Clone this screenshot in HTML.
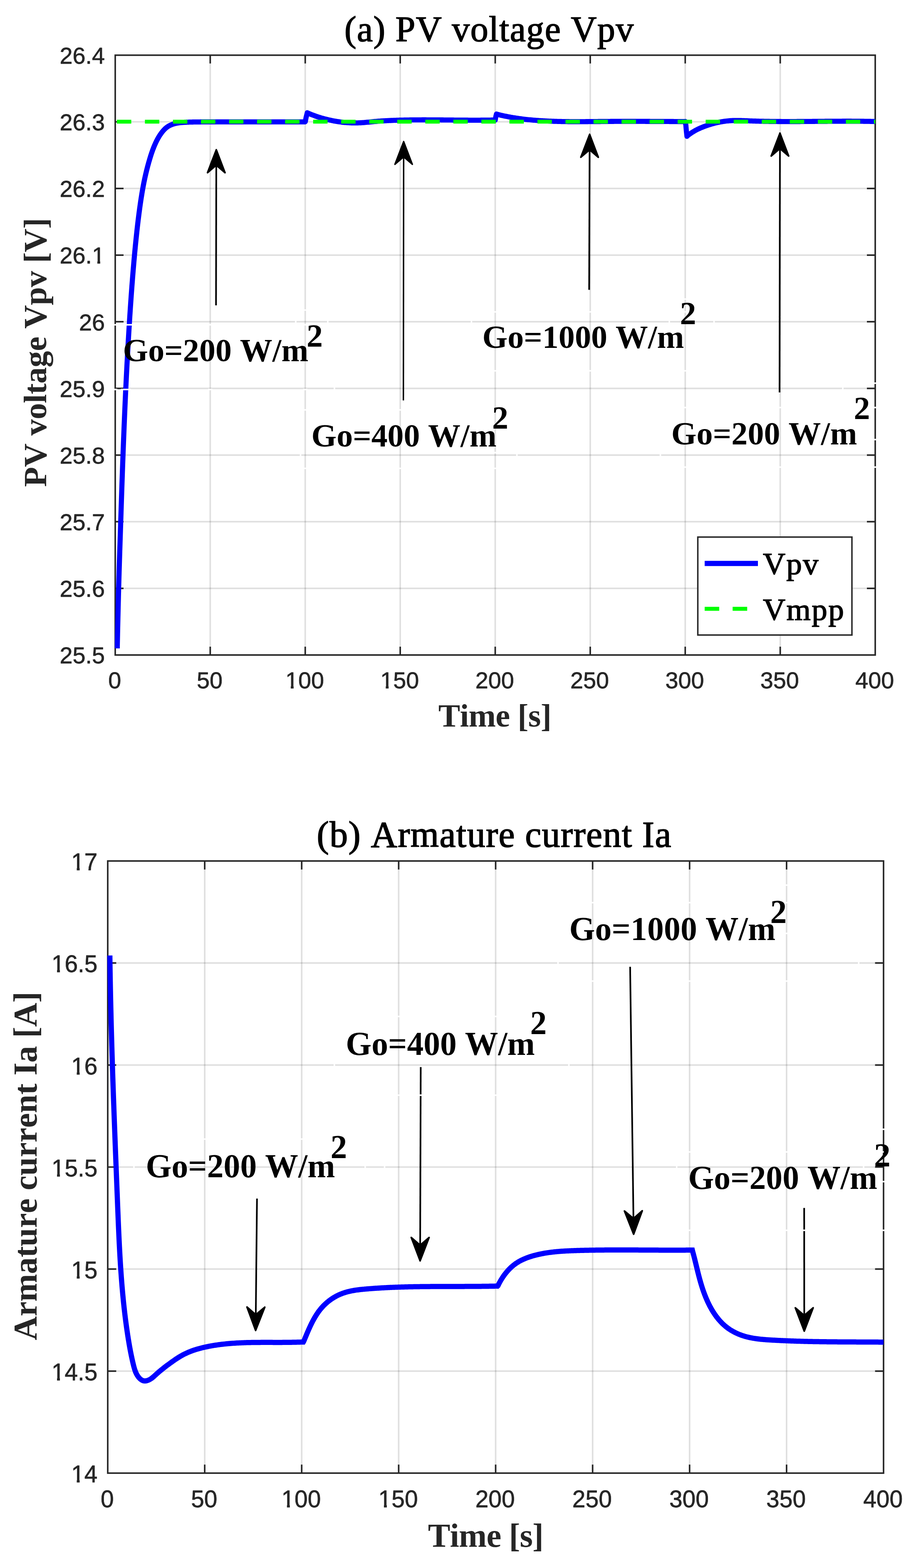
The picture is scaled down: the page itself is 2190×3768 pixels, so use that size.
<!DOCTYPE html>
<html lang="en"><head><meta charset="utf-8"><title>PV voltage and armature current</title>
<style>
html,body{margin:0;padding:0;background:#fff;}
body{width:2190px;height:3768px;overflow:hidden;}
svg{display:block;}
text{white-space:pre;font-kerning:none;}
</style></head><body>
<svg width="2190" height="3768" viewBox="0 0 2190 3768" role="img" aria-label="PV voltage and armature current plots">
<rect width="2190" height="3768" fill="#fff"/>
<g stroke="#262626" stroke-opacity="0.15" stroke-width="3.7" fill="none"><line x1="505.38" y1="132.6" x2="505.38" y2="1574"/><line x1="733.75" y1="132.6" x2="733.75" y2="1574"/><line x1="962.12" y1="132.6" x2="962.12" y2="1574"/><line x1="1190.5" y1="132.6" x2="1190.5" y2="1574"/><line x1="1418.88" y1="132.6" x2="1418.88" y2="1574"/><line x1="1647.25" y1="132.6" x2="1647.25" y2="1574"/><line x1="1875.62" y1="132.6" x2="1875.62" y2="1574"/><line x1="277" y1="1413.84" x2="2104" y2="1413.84"/><line x1="277" y1="1253.69" x2="2104" y2="1253.69"/><line x1="277" y1="1093.53" x2="2104" y2="1093.53"/><line x1="277" y1="933.38" x2="2104" y2="933.38"/><line x1="277" y1="773.22" x2="2104" y2="773.22"/><line x1="277" y1="613.07" x2="2104" y2="613.07"/><line x1="277" y1="452.91" x2="2104" y2="452.91"/><line x1="277" y1="292.76" x2="2104" y2="292.76"/></g>
<path d="M505.38 1574 v-20 M505.38 132.6 v20 M733.75 1574 v-20 M733.75 132.6 v20 M962.12 1574 v-20 M962.12 132.6 v20 M1190.5 1574 v-20 M1190.5 132.6 v20 M1418.88 1574 v-20 M1418.88 132.6 v20 M1647.25 1574 v-20 M1647.25 132.6 v20 M1875.62 1574 v-20 M1875.62 132.6 v20 M277 1413.84 h20 M2104 1413.84 h-20 M277 1253.69 h20 M2104 1253.69 h-20 M277 1093.53 h20 M2104 1093.53 h-20 M277 933.38 h20 M2104 933.38 h-20 M277 773.22 h20 M2104 773.22 h-20 M277 613.07 h20 M2104 613.07 h-20 M277 452.91 h20 M2104 452.91 h-20 M277 292.76 h20 M2104 292.76 h-20" stroke="#262626" stroke-width="3.7" fill="none"/>
<rect x="277" y="132.6" width="1827" height="1441.4" stroke="#262626" stroke-width="3.7" fill="none"/>
<clipPath id="ca"><rect x="275.4" y="132.6" width="1828.6" height="1441.4"/></clipPath>
<g clip-path="url(#ca)">
<path d="M281.8 1558.08 L282.3 1534.83 L282.8 1512.28 L283.31 1490.45 L283.81 1469.34 L284.31 1448.95 L284.81 1429.3 L285.32 1410.39 L285.82 1392.31 L286.32 1374.98 L286.83 1358.28 L287.33 1342.09 L287.83 1326.27 L288.34 1310.72 L288.84 1295.34 L289.34 1280.02 L289.85 1264.67 L290.35 1249.21 L290.85 1233.75 L291.36 1218.38 L291.86 1203.11 L292.36 1187.98 L292.86 1173.03 L293.37 1158.28 L293.87 1143.74 L294.37 1129.46 L294.88 1115.44 L295.38 1101.71 L295.88 1088.27 L296.39 1075.07 L296.89 1062.07 L297.39 1049.28 L297.9 1036.7 L298.4 1024.33 L298.9 1012.17 L299.4 1000.22 L299.91 988.48 L300.41 976.95 L300.91 965.62 L301.42 954.51 L301.92 943.59 L302.42 932.88 L302.93 922.38 L303.43 912.09 L303.93 901.98 L304.44 892.07 L304.94 882.33 L305.44 872.77 L305.95 863.37 L306.45 854.13 L306.95 845.04 L307.45 836.09 L307.96 827.29 L308.46 818.61 L308.96 810.06 L309.47 801.64 L309.97 793.33 L310.47 785.14 L310.98 777.05 L311.48 769.07 L311.98 761.21 L312.49 753.48 L312.99 745.87 L313.49 738.37 L314 730.99 L314.5 723.73 L315 716.58 L315.5 709.54 L316.01 702.61 L316.51 695.78 L317.01 689.06 L317.52 682.45 L318.02 675.93 L318.52 669.52 L319.03 663.21 L319.53 656.99 L320.03 650.87 L320.54 644.84 L321.04 638.9 L321.54 633.06 L322.04 627.3 L322.55 621.63 L323.05 616.05 L323.55 610.56 L324.06 605.15 L324.56 599.82 L325.06 594.57 L325.57 589.41 L326.07 584.32 L326.57 579.32 L327.08 574.39 L327.58 569.54 L328.08 564.77 L328.59 560.07 L329.09 555.46 L329.59 550.91 L330.09 546.44 L330.6 542.04 L331.1 537.72 L331.6 533.46 L332.11 529.28 L332.61 525.16 L333.11 521.12 L333.62 517.14 L334.12 513.23 L334.62 509.38 L335.13 505.6 L335.63 501.89 L336.13 498.24 L336.64 494.65 L337.14 491.12 L337.64 487.65 L338.14 484.25 L338.65 480.9 L339.15 477.61 L339.65 474.38 L340.16 471.21 L340.66 468.09 L341.16 465.03 L341.67 462.02 L342.17 459.06 L342.67 456.16 L343.18 453.31 L343.68 450.51 L344.18 447.78 L344.68 445.1 L345.19 442.48 L345.69 439.91 L346.19 437.39 L346.7 434.93 L347.2 432.5 L347.7 430.12 L348.21 427.79 L348.71 425.5 L349.21 423.24 L349.72 421.02 L350.22 418.84 L350.72 416.7 L351.23 414.59 L351.73 412.51 L352.23 410.46 L352.73 408.44 L353.24 406.45 L353.74 404.49 L354.24 402.55 L354.75 400.64 L355.25 398.75 L355.75 396.89 L356.26 395.05 L356.76 393.24 L357.26 391.44 L357.77 389.67 L358.27 387.91 L358.77 386.18 L359.28 384.46 L359.78 382.77 L360.28 381.09 L360.78 379.43 L361.29 377.78 L361.79 376.16 L362.29 374.56 L362.8 372.98 L363.3 371.43 L363.8 369.91 L364.31 368.4 L364.81 366.93 L365.31 365.47 L365.82 364.04 L366.32 362.63 L366.82 361.25 L367.32 359.89 L367.83 358.54 L368.33 357.22 L368.83 355.92 L369.34 354.65 L369.84 353.39 L370.34 352.15 L370.85 350.93 L371.35 349.74 L371.85 348.56 L372.36 347.4 L372.86 346.26 L373.36 345.14 L373.87 344.03 L374.37 342.95 L374.87 341.88 L375.37 340.83 L375.88 339.8 L376.38 338.78 L376.88 337.78 L377.39 336.8 L377.89 335.84 L378.39 334.89 L378.9 333.96 L379.4 333.04 L379.9 332.14 L380.41 331.25 L380.91 330.38 L381.41 329.53 L381.92 328.69 L382.42 327.86 L382.92 327.05 L383.42 326.26 L383.93 325.47 L384.43 324.7 L384.93 323.95 L385.44 323.21 L385.94 322.48 L386.44 321.77 L386.95 321.06 L387.45 320.37 L387.95 319.68 L388.46 319.01 L388.96 318.34 L389.46 317.69 L389.96 317.05 L390.47 316.42 L390.97 315.8 L391.47 315.19 L391.98 314.6 L392.48 314.01 L392.98 313.44 L393.49 312.88 L393.99 312.34 L394.49 311.8 L395 311.28 L395.5 310.76 L396 310.27 L396.51 309.78 L397.01 309.3 L397.51 308.84 L398.01 308.38 L398.52 307.94 L399.02 307.51 L399.52 307.09 L400.03 306.69 L400.53 306.29 L401.03 305.9 L401.54 305.53 L402.04 305.16 L402.54 304.81 L403.05 304.46 L403.55 304.13 L404.05 303.8 L404.56 303.49 L405.06 303.18 L405.56 302.88 L406.06 302.59 L406.57 302.31 L407.07 302.04 L407.57 301.78 L408.08 301.52 L408.58 301.28 L409.08 301.04 L409.59 300.8 L410.09 300.58 L410.59 300.36 L411.1 300.14 L411.6 299.93 L412.1 299.73 L412.6 299.53 L413.11 299.34 L413.61 299.15 L414.11 298.96 L414.62 298.78 L415.12 298.61 L415.62 298.44 L416.13 298.27 L416.63 298.11 L417.13 297.96 L417.64 297.81 L418.14 297.66 L418.64 297.52 L419.15 297.38 L419.65 297.24 L420.15 297.11 L420.65 296.98 L421.16 296.86 L421.66 296.74 L422.16 296.63 L422.67 296.51 L423.17 296.4 L423.67 296.3 L424.18 296.2 L424.68 296.1 L425.18 296 L425.69 295.91 L426.19 295.82 L426.69 295.73 L427.2 295.64 L427.7 295.56 L428.2 295.48 L428.7 295.41 L429.21 295.33 L429.71 295.26 L430.21 295.19 L430.72 295.12 L431.22 295.06 L431.72 294.99 L432.23 294.93 L432.73 294.87 L433.23 294.82 L433.74 294.76 L434.24 294.71 L434.74 294.66 L435.24 294.61 L435.75 294.56 L436.25 294.51 L436.75 294.47 L437.26 294.42 L437.76 294.38 L438.26 294.34 L438.77 294.3 L439.27 294.26 L439.77 294.22 L440.28 294.19 L440.78 294.15 L441.28 294.12 L441.79 294.08 L442.29 294.05 L442.79 294.02 L443.29 293.99 L443.8 293.96 L444.3 293.93 L444.8 293.9 L445.31 293.87 L445.81 293.84 L446.31 293.82 L446.82 293.79 L447.32 293.77 L447.82 293.74 L448.33 293.72 L448.83 293.7 L449.33 293.68 L449.84 293.65 L450.34 293.63 L450.84 293.61 L451.34 293.59 L451.85 293.57 L452.35 293.56 L452.85 293.54 L453.36 293.52 L453.86 293.5 L454.36 293.49 L454.87 293.47 L455.37 293.45 L455.87 293.44 L456.38 293.42 L456.88 293.41 L457.38 293.4 L457.89 293.38 L458.39 293.37 L458.89 293.36 L459.39 293.34 L459.9 293.33 L460.4 293.32 L460.9 293.31 L461.41 293.3 L461.91 293.28 L462.41 293.27 L462.92 293.26 L463.42 293.25 L463.92 293.24 L464.43 293.23 L464.93 293.22 L465.43 293.22 L465.93 293.21 L466.44 293.2 L466.94 293.19 L467.44 293.18 L467.95 293.17 L468.45 293.17 L468.95 293.16 L469.46 293.15 L469.96 293.14 L470.46 293.14 L470.97 293.13 L471.47 293.12 L471.97 293.12 L472.48 293.11 L472.98 293.11 L473.48 293.1 L473.98 293.09 L474.49 293.09 L474.99 293.08 L475.49 293.08 L476 293.07 L476.5 293.07 L477 293.06 L477.51 293.06 L478.01 293.05 L478.51 293.05 L479.02 293.04 L479.52 293.04 L480.02 293.04 L480.53 293.03 L481.03 293.03 L481.53 293.02 L482.03 293.02 L482.54 293.02 L483.45 292.86 L496.6 292.86 L509.75 292.86 L522.9 292.86 L536.05 292.86 L549.2 292.86 L562.35 292.86 L575.5 292.86 L588.65 292.86 L601.8 292.86 L614.95 292.86 L628.1 292.86 L641.25 292.86 L654.4 292.86 L667.55 292.86 L680.69 292.86 L693.84 292.86 L706.99 292.86 L720.14 292.86 L733.29 292.86 L733.9 292.4 L735.9 282 L738.7 270.9 L740.76 271.93 L742.83 272.83 L744.92 273.71 L747.01 274.58 L749.12 275.43 L751.23 276.25 L753.35 277.06 L755.48 277.86 L757.62 278.63 L759.76 279.38 L761.91 280.12 L764.07 280.84 L766.24 281.54 L768.41 282.23 L770.59 282.89 L772.77 283.54 L774.96 284.17 L777.16 284.79 L779.36 285.39 L781.57 285.97 L783.78 286.53 L786 287.08 L788.22 287.6 L790.45 288.12 L792.67 288.61 L794.91 289.09 L797.14 289.55 L799.38 290 L801.63 290.43 L803.87 290.84 L806.12 291.24 L808.37 291.62 L810.62 291.99 L812.87 292.33 L815.13 292.67 L817.38 292.98 L819.64 293.27 L821.9 293.55 L824.16 293.81 L826.42 294.05 L828.69 294.28 L830.95 294.48 L833.22 294.67 L835.49 294.83 L837.75 294.98 L840.02 295.11 L842.29 295.21 L844.56 295.3 L846.83 295.36 L849.09 295.41 L851.36 295.43 L853.63 295.43 L855.9 295.41 L858.17 295.37 L860.44 295.31 L862.7 295.22 L864.97 295.12 L867.24 294.99 L869.5 294.85 L871.77 294.69 L874.03 294.52 L876.3 294.33 L878.56 294.14 L880.83 293.94 L883.09 293.73 L885.36 293.51 L887.62 293.29 L889.89 293.07 L892.16 292.85 L894.42 292.62 L896.69 292.41 L898.96 292.19 L901.22 291.99 L903.49 291.79 L905.76 291.59 L908.03 291.41 L910.3 291.23 L912.57 291.06 L914.84 290.9 L917.11 290.74 L919.38 290.59 L921.65 290.45 L923.93 290.31 L926.2 290.18 L928.47 290.05 L930.74 289.93 L933.02 289.82 L935.29 289.71 L937.56 289.6 L939.84 289.5 L942.11 289.4 L944.39 289.31 L946.66 289.22 L948.94 289.14 L951.21 289.06 L953.49 288.98 L955.76 288.91 L958.04 288.84 L960.31 288.77 L962.59 288.71 L964.86 288.65 L967.14 288.59 L969.42 288.54 L971.69 288.49 L973.97 288.44 L976.24 288.4 L978.52 288.35 L980.8 288.32 L983.07 288.28 L985.35 288.25 L987.62 288.21 L989.9 288.19 L992.18 288.16 L994.45 288.14 L996.73 288.12 L999.01 288.1 L1001.28 288.08 L1003.56 288.07 L1005.84 288.05 L1008.11 288.04 L1010.39 288.04 L1012.67 288.03 L1014.95 288.02 L1017.22 288.02 L1019.5 288.02 L1021.78 288.02 L1024.05 288.02 L1026.33 288.03 L1028.61 288.03 L1030.89 288.04 L1033.16 288.05 L1035.44 288.06 L1037.72 288.07 L1040 288.08 L1042.27 288.09 L1044.55 288.11 L1046.83 288.12 L1049.11 288.14 L1051.38 288.16 L1053.66 288.17 L1055.94 288.19 L1058.22 288.21 L1060.49 288.23 L1062.77 288.25 L1065.05 288.27 L1067.33 288.29 L1069.6 288.31 L1071.88 288.33 L1074.16 288.36 L1076.44 288.38 L1078.72 288.4 L1080.99 288.42 L1083.27 288.45 L1085.55 288.47 L1087.83 288.49 L1090.1 288.51 L1092.38 288.53 L1094.66 288.55 L1096.94 288.58 L1099.21 288.6 L1101.49 288.62 L1103.77 288.63 L1106.05 288.65 L1108.32 288.67 L1110.6 288.69 L1112.88 288.7 L1115.16 288.72 L1117.43 288.73 L1119.71 288.75 L1121.99 288.76 L1124.26 288.77 L1126.54 288.78 L1128.82 288.79 L1131.1 288.8 L1133.37 288.8 L1135.65 288.81 L1137.93 288.81 L1140.2 288.81 L1142.48 288.81 L1144.76 288.81 L1147.03 288.81 L1149.31 288.8 L1151.59 288.79 L1153.86 288.78 L1156.14 288.77 L1158.41 288.76 L1160.69 288.74 L1162.97 288.72 L1165.24 288.7 L1167.52 288.68 L1169.79 288.66 L1172.07 288.63 L1174.35 288.6 L1176.62 288.57 L1178.9 288.53 L1181.17 288.49 L1183.45 288.45 L1185.72 288.41 L1188 288.36 L1190.5 288.4 L1192 280 L1193.5 273.9 L1195.62 274.75 L1197.84 275.31 L1200.07 275.86 L1202.3 276.4 L1204.52 276.93 L1206.76 277.44 L1208.99 277.94 L1211.22 278.43 L1213.46 278.91 L1215.7 279.37 L1217.93 279.83 L1220.17 280.27 L1222.41 280.7 L1224.66 281.13 L1226.9 281.54 L1229.15 281.94 L1231.39 282.33 L1233.64 282.71 L1235.89 283.08 L1238.14 283.44 L1240.39 283.79 L1242.64 284.13 L1244.9 284.46 L1247.15 284.78 L1249.41 285.09 L1251.66 285.4 L1253.92 285.69 L1256.18 285.98 L1258.44 286.25 L1260.7 286.52 L1262.96 286.78 L1265.22 287.04 L1267.49 287.28 L1269.75 287.52 L1272.01 287.75 L1274.28 287.97 L1276.55 288.18 L1278.81 288.39 L1281.08 288.59 L1283.35 288.78 L1285.62 288.97 L1287.89 289.15 L1290.16 289.32 L1292.43 289.49 L1294.7 289.65 L1296.97 289.81 L1299.25 289.96 L1301.52 290.1 L1303.79 290.24 L1306.07 290.37 L1308.34 290.5 L1310.62 290.63 L1312.89 290.74 L1315.17 290.86 L1317.44 290.96 L1319.72 291.07 L1322 291.16 L1324.27 291.26 L1326.55 291.35 L1328.83 291.43 L1331.11 291.51 L1333.39 291.59 L1335.67 291.66 L1337.95 291.72 L1340.23 291.79 L1342.51 291.85 L1344.79 291.9 L1347.07 291.95 L1349.35 292 L1351.63 292.05 L1353.91 292.09 L1356.19 292.12 L1358.47 292.16 L1360.76 292.19 L1363.04 292.22 L1365.32 292.24 L1367.6 292.27 L1369.89 292.28 L1372.17 292.3 L1374.45 292.32 L1376.74 292.33 L1379.02 292.34 L1381.31 292.34 L1383.59 292.35 L1385.87 292.35 L1388.16 292.35 L1390.44 292.35 L1392.73 292.34 L1395.01 292.34 L1397.3 292.33 L1399.58 292.32 L1401.87 292.31 L1404.15 292.3 L1406.44 292.29 L1408.72 292.27 L1411.01 292.26 L1413.29 292.24 L1415.58 292.22 L1417.86 292.21 L1420.15 292.19 L1422.43 292.17 L1424.72 292.15 L1427 292.13 L1429.29 292.11 L1431.57 292.08 L1433.86 292.06 L1436.14 292.04 L1438.43 292.02 L1440.71 292 L1442.99 291.98 L1445.28 291.95 L1447.56 291.93 L1449.85 291.91 L1452.13 291.89 L1454.41 291.87 L1456.7 291.85 L1458.98 291.84 L1461.26 291.82 L1463.55 291.8 L1465.83 291.79 L1468.11 291.77 L1470.4 291.76 L1472.68 291.75 L1474.96 291.74 L1477.24 291.72 L1479.52 291.71 L1481.81 291.71 L1484.09 291.7 L1486.37 291.69 L1488.65 291.68 L1490.93 291.68 L1493.21 291.67 L1495.49 291.67 L1497.77 291.66 L1500.05 291.66 L1502.33 291.66 L1504.61 291.65 L1506.89 291.65 L1509.18 291.65 L1511.46 291.65 L1513.74 291.65 L1516.02 291.65 L1518.3 291.66 L1520.58 291.66 L1522.85 291.66 L1525.13 291.66 L1527.41 291.67 L1529.69 291.67 L1531.97 291.67 L1534.25 291.68 L1536.53 291.68 L1538.81 291.69 L1541.09 291.7 L1543.37 291.7 L1545.65 291.71 L1547.93 291.72 L1550.21 291.72 L1552.49 291.73 L1554.77 291.74 L1557.05 291.75 L1559.33 291.76 L1561.6 291.77 L1563.88 291.78 L1566.16 291.78 L1568.44 291.79 L1570.72 291.8 L1573 291.81 L1575.28 291.82 L1577.56 291.83 L1579.84 291.84 L1582.12 291.85 L1584.4 291.86 L1586.68 291.87 L1588.96 291.89 L1591.24 291.9 L1593.52 291.91 L1595.8 291.92 L1598.08 291.93 L1600.36 291.94 L1602.64 291.95 L1604.92 291.96 L1607.2 291.97 L1609.48 291.98 L1611.76 291.99 L1614.04 292 L1616.32 292.01 L1618.6 292.02 L1620.88 292.03 L1623.17 292.04 L1625.45 292.05 L1627.73 292.06 L1630.01 292.06 L1632.29 292.07 L1634.57 292.08 L1636.86 292.09 L1639.14 292.1 L1641.42 292.1 L1643.7 292.11 L1645.99 292.12 L1647.5 292 L1648.7 300 L1650 315 L1651.4 327.6 L1653.08 325.95 L1654.89 324.51 L1656.72 323.11 L1658.59 321.75 L1660.47 320.42 L1662.39 319.14 L1664.32 317.89 L1666.28 316.67 L1668.27 315.49 L1670.27 314.35 L1672.29 313.23 L1674.34 312.15 L1676.4 311.11 L1678.47 310.09 L1680.57 309.1 L1682.68 308.14 L1684.8 307.21 L1686.94 306.3 L1689.09 305.43 L1691.25 304.58 L1693.43 303.75 L1695.61 302.95 L1697.8 302.17 L1700 301.41 L1702.21 300.68 L1704.42 299.96 L1706.64 299.27 L1708.87 298.6 L1711.1 297.95 L1713.34 297.32 L1715.58 296.72 L1717.83 296.14 L1720.08 295.58 L1722.33 295.04 L1724.59 294.53 L1726.86 294.04 L1729.13 293.58 L1731.4 293.14 L1733.68 292.72 L1735.96 292.33 L1738.24 291.97 L1740.53 291.63 L1742.82 291.31 L1745.11 291.02 L1747.4 290.76 L1749.7 290.53 L1752 290.32 L1754.3 290.14 L1756.6 289.99 L1758.91 289.86 L1761.21 289.76 L1763.52 289.69 L1765.83 289.63 L1768.13 289.6 L1770.44 289.59 L1772.75 289.59 L1775.07 289.62 L1777.38 289.65 L1779.69 289.7 L1782.01 289.76 L1784.32 289.83 L1786.64 289.91 L1788.95 290 L1791.27 290.09 L1793.58 290.18 L1795.9 290.27 L1798.22 290.37 L1800.53 290.46 L1802.85 290.55 L1805.17 290.63 L1807.48 290.72 L1809.8 290.8 L1812.12 290.87 L1814.43 290.95 L1816.75 291.02 L1819.07 291.09 L1821.38 291.15 L1823.7 291.22 L1826.02 291.28 L1828.33 291.33 L1830.65 291.39 L1832.97 291.44 L1835.28 291.49 L1837.6 291.54 L1839.91 291.59 L1842.23 291.63 L1844.55 291.67 L1846.86 291.71 L1849.18 291.74 L1851.5 291.78 L1853.81 291.81 L1856.13 291.84 L1858.45 291.87 L1860.76 291.89 L1863.08 291.92 L1865.4 291.94 L1867.71 291.96 L1870.03 291.98 L1872.35 291.99 L1874.66 292.01 L1876.98 292.02 L1879.3 292.03 L1881.61 292.04 L1883.93 292.05 L1886.25 292.05 L1888.56 292.06 L1890.88 292.06 L1893.19 292.06 L1895.51 292.07 L1897.83 292.06 L1900.14 292.06 L1902.46 292.06 L1904.78 292.06 L1907.09 292.05 L1909.41 292.04 L1911.73 292.04 L1914.04 292.03 L1916.36 292.02 L1918.68 292.01 L1920.99 292 L1923.31 291.98 L1925.63 291.97 L1927.94 291.96 L1930.26 291.94 L1932.58 291.93 L1934.89 291.91 L1937.21 291.89 L1939.52 291.88 L1941.84 291.86 L1944.16 291.84 L1946.47 291.82 L1948.79 291.81 L1951.11 291.79 L1953.42 291.77 L1955.74 291.75 L1958.06 291.73 L1960.37 291.71 L1962.69 291.69 L1965.01 291.67 L1967.32 291.65 L1969.64 291.63 L1971.96 291.61 L1974.27 291.59 L1976.59 291.57 L1978.91 291.55 L1981.22 291.53 L1983.54 291.51 L1985.85 291.49 L1988.17 291.48 L1990.49 291.46 L1992.8 291.44 L1995.12 291.42 L1997.44 291.41 L1999.75 291.39 L2002.07 291.38 L2004.39 291.36 L2006.7 291.35 L2009.02 291.34 L2011.34 291.33 L2013.65 291.31 L2015.97 291.3 L2018.29 291.29 L2020.6 291.29 L2022.92 291.28 L2025.24 291.27 L2027.55 291.27 L2029.87 291.26 L2032.19 291.26 L2034.5 291.26 L2036.82 291.26 L2039.14 291.26 L2041.45 291.26 L2043.77 291.27 L2046.08 291.27 L2048.4 291.28 L2050.72 291.29 L2053.03 291.3 L2055.35 291.31 L2057.67 291.32 L2059.98 291.34 L2062.3 291.35 L2064.62 291.37 L2066.93 291.39 L2069.25 291.42 L2071.57 291.44 L2073.88 291.47 L2076.2 291.5 L2078.52 291.53 L2080.83 291.56 L2083.15 291.59 L2085.47 291.63 L2087.78 291.67 L2090.1 291.71 L2092.42 291.75 L2094.73 291.8 L2097.05 291.85 L2099.37 291.9 L2101.68 291.95 L2104 292.01" fill="none" stroke="#0000ff" stroke-width="12.3" stroke-linejoin="round"/>
<path d="M277 292.4 H2104" fill="none" stroke="#00ff00" stroke-width="9.2" stroke-dasharray="34.6 32.8" stroke-dashoffset="-4"/>
</g>
<text x="827.9" y="99.4" font-family="'Liberation Serif', serif" font-weight="normal" font-size="86" fill="#000" stroke="#000" stroke-width="1.7" stroke-linejoin="round" letter-spacing="1.42">(a) PV voltage Vpv</text>
<g font-family="'Liberation Sans', sans-serif" font-size="55.8" fill="#262626" stroke="#262626" stroke-width="0.8" stroke-linejoin="round"><text x="275.7" y="1653.6" text-anchor="middle">0</text><text x="504.07" y="1653.6" text-anchor="middle">50</text><text x="732.45" y="1653.6" text-anchor="middle">100</text><text x="960.83" y="1653.6" text-anchor="middle">150</text><text x="1189.2" y="1653.6" text-anchor="middle">200</text><text x="1417.58" y="1653.6" text-anchor="middle">250</text><text x="1645.95" y="1653.6" text-anchor="middle">300</text><text x="1874.33" y="1653.6" text-anchor="middle">350</text><text x="2102.7" y="1653.6" text-anchor="middle">400</text><text x="252" y="1594.3" text-anchor="end">25.5</text><text x="252" y="1434.14" text-anchor="end">25.6</text><text x="252" y="1273.99" text-anchor="end">25.7</text><text x="252" y="1113.83" text-anchor="end">25.8</text><text x="252" y="953.68" text-anchor="end">25.9</text><text x="252" y="793.52" text-anchor="end">26</text><text x="252" y="633.37" text-anchor="end">26.1</text><text x="252" y="473.21" text-anchor="end">26.2</text><text x="252" y="313.06" text-anchor="end">26.3</text><text x="252" y="152.9" text-anchor="end">26.4</text></g>
<g fill="#fff"><rect x="688.95" y="1647.73" width="9.98" height="7.27"/><rect x="705.86" y="1647.73" width="9.55" height="7.27"/><rect x="917.33" y="1647.73" width="9.98" height="7.27"/><rect x="934.24" y="1647.73" width="9.55" height="7.27"/><rect x="224.02" y="627.5" width="9.98" height="7.27"/><rect x="240.93" y="627.5" width="9.55" height="7.27"/></g>
<text x="1053.8" y="1746" font-family="'Liberation Serif', serif" font-weight="bold" font-size="78.6" fill="#262626" letter-spacing="-0.74">Time [s]</text>
<text transform="translate(110.9 1170.1) rotate(-90)" font-family="'Liberation Serif', serif" font-weight="bold" font-size="78.7" fill="#262626" letter-spacing="-0.41">PV voltage Vpv [V]</text>
<line x1="519.3" y1="733.8" x2="519.93" y2="396.9" stroke="#000" stroke-width="4"/>
<polygon points="520,359.9 540.89,414.94 519.93,396.9 498.89,414.86" fill="#000" stroke="#000" stroke-width="4" stroke-linejoin="round"/>
<line x1="969.7" y1="962.2" x2="970.36" y2="377" stroke="#000" stroke-width="3.4"/>
<polygon points="970.4,340 991.34,395.02 970.36,377 949.34,394.98" fill="#000" stroke="#000" stroke-width="3.4" stroke-linejoin="round"/>
<line x1="1416.3" y1="696.5" x2="1417.38" y2="359.9" stroke="#000" stroke-width="4"/>
<polygon points="1417.49,322.9 1438.32,377.97 1417.38,359.9 1396.32,377.83" fill="#000" stroke="#000" stroke-width="4" stroke-linejoin="round"/>
<line x1="1874" y1="942.9" x2="1874.94" y2="356.9" stroke="#000" stroke-width="4"/>
<polygon points="1875,319.9 1895.91,374.93 1874.94,356.9 1853.91,374.87" fill="#000" stroke="#000" stroke-width="4" stroke-linejoin="round"/>
<g fill="#fff"><rect x="272" y="778.7" width="10" height="3.6"/><rect x="299" y="778.7" width="24" height="3.6"/><rect x="500.4" y="778.7" width="10" height="3.6"/><rect x="728.75" y="778.7" width="10" height="3.6"/><rect x="272" y="934.2" width="10" height="3.6"/><rect x="290.4" y="934.2" width="24" height="3.6"/><rect x="500.4" y="934.2" width="10" height="3.6"/><rect x="728.75" y="934.2" width="10" height="3.6"/><rect x="728.75" y="743.3" width="10" height="3.6"/><rect x="728.75" y="983.2" width="10" height="3.6"/><rect x="956.4" y="983.2" width="10" height="3.6"/><rect x="728.75" y="1123.7" width="10" height="3.6"/><rect x="956.4" y="1123.7" width="10" height="3.6"/><rect x="1185.5" y="1123.7" width="10" height="3.6"/><rect x="1185.5" y="1085.8" width="10" height="3.6"/><rect x="1185.5" y="747.7" width="10" height="3.6"/><rect x="1414.1" y="747.7" width="10" height="3.6"/><rect x="1642.25" y="747.7" width="10" height="3.6"/><rect x="1185.5" y="889.3" width="10" height="3.6"/><rect x="1414.1" y="889.3" width="10" height="3.6"/><rect x="1642.25" y="889.3" width="10" height="3.6"/><rect x="1642.25" y="716.9" width="10" height="3.6"/><rect x="1642.25" y="977.5" width="10" height="3.6"/><rect x="1870.6" y="977.5" width="10" height="3.6"/><rect x="2099" y="977.5" width="10" height="3.6"/><rect x="1642.25" y="1120.7" width="10" height="3.6"/><rect x="1870.6" y="1120.7" width="10" height="3.6"/><rect x="2099" y="1120.7" width="10" height="3.6"/><rect x="2099" y="919" width="10" height="3.6"/><rect x="2099" y="1054.5" width="10" height="3.6"/><rect x="709.2" y="768.4" width="3.6" height="10"/><rect x="786.2" y="768.4" width="3.6" height="10"/><rect x="802.2" y="928.5" width="3.6" height="10"/><rect x="720.7" y="1088.7" width="3.6" height="10"/><rect x="1240.8" y="1088.7" width="3.6" height="10"/><rect x="1131.6" y="768.4" width="3.6" height="10"/><rect x="1607.2" y="768.4" width="3.6" height="10"/><rect x="1714.7" y="768.4" width="3.6" height="10"/><rect x="1585.7" y="1088.7" width="3.6" height="10"/><rect x="2024.3" y="928.5" width="3.6" height="10"/></g>
<text x="295.5" y="868.1" font-family="'Liberation Serif', serif" font-weight="bold" font-size="77.9" fill="#000" letter-spacing="0.13">Go=200 W/m<tspan x="736.9" y="832.6">2</tspan></text>
<text x="748.6" y="1072.7" font-family="'Liberation Serif', serif" font-weight="bold" font-size="77.9" fill="#000" letter-spacing="0.04">Go=400 W/m<tspan x="1183" y="1029.7">2</tspan></text>
<text x="1159.5" y="836.2" font-family="'Liberation Serif', serif" font-weight="bold" font-size="77.9" fill="#000" letter-spacing="0.12">Go=1000 W/m<tspan x="1634.5" y="778.9">2</tspan></text>
<text x="1613.7" y="1067.5" font-family="'Liberation Serif', serif" font-weight="bold" font-size="77.9" fill="#000" letter-spacing="0.22">Go=200 W/m<tspan x="2052.4" y="1007.1">2</tspan></text>
<rect x="1677.5" y="1290.6" width="370.5" height="235.4" fill="#fff" stroke="#262626" stroke-width="3.5"/>
<path d="M1694 1354 H1822" stroke="#0000ff" stroke-width="12.3"/>
<path d="M1694 1463 H1822" stroke="#00ff00" stroke-width="9.6" stroke-dasharray="35 32.2"/>
<text x="1833.9" y="1380" font-family="'Liberation Serif', serif" font-weight="normal" font-size="75" fill="#000" stroke="#000" stroke-width="1.7" stroke-linejoin="round" letter-spacing="2.2">Vpv</text>
<text x="1833.9" y="1489.8" font-family="'Liberation Serif', serif" font-weight="normal" font-size="75" fill="#000" stroke="#000" stroke-width="1.7" stroke-linejoin="round" letter-spacing="2.43">Vmpp</text>
<g stroke="#262626" stroke-opacity="0.15" stroke-width="3.7" fill="none"><line x1="492.12" y1="2069" x2="492.12" y2="3540"/><line x1="725.25" y1="2069" x2="725.25" y2="3540"/><line x1="958.38" y1="2069" x2="958.38" y2="3540"/><line x1="1191.5" y1="2069" x2="1191.5" y2="3540"/><line x1="1424.62" y1="2069" x2="1424.62" y2="3540"/><line x1="1657.75" y1="2069" x2="1657.75" y2="3540"/><line x1="1890.88" y1="2069" x2="1890.88" y2="3540"/><line x1="259" y1="3294.83" x2="2124" y2="3294.83"/><line x1="259" y1="3049.67" x2="2124" y2="3049.67"/><line x1="259" y1="2804.5" x2="2124" y2="2804.5"/><line x1="259" y1="2559.33" x2="2124" y2="2559.33"/><line x1="259" y1="2314.17" x2="2124" y2="2314.17"/></g>
<path d="M492.12 3540 v-20.4 M492.12 2069 v20.4 M725.25 3540 v-20.4 M725.25 2069 v20.4 M958.38 3540 v-20.4 M958.38 2069 v20.4 M1191.5 3540 v-20.4 M1191.5 2069 v20.4 M1424.62 3540 v-20.4 M1424.62 2069 v20.4 M1657.75 3540 v-20.4 M1657.75 2069 v20.4 M1890.88 3540 v-20.4 M1890.88 2069 v20.4 M259 3294.83 h20.4 M2124 3294.83 h-20.4 M259 3049.67 h20.4 M2124 3049.67 h-20.4 M259 2804.5 h20.4 M2124 2804.5 h-20.4 M259 2559.33 h20.4 M2124 2559.33 h-20.4 M259 2314.17 h20.4 M2124 2314.17 h-20.4" stroke="#262626" stroke-width="3.7" fill="none"/>
<rect x="259" y="2069" width="1865" height="1471" stroke="#262626" stroke-width="3.7" fill="none"/>
<clipPath id="cb"><rect x="257.4" y="2069" width="1866.6" height="1471"/></clipPath>
<g clip-path="url(#cb)">
<path d="M264.07 2296.14 L264.11 2299.04 L264.15 2301.93 L264.19 2304.83 L264.23 2307.72 L264.27 2310.62 L264.31 2313.51 L264.35 2316.41 L264.4 2319.3 L264.44 2322.2 L264.48 2325.09 L264.53 2327.98 L264.58 2330.88 L264.62 2333.77 L264.67 2336.67 L264.72 2339.56 L264.77 2342.45 L264.82 2345.35 L264.87 2348.24 L264.92 2351.13 L264.97 2354.03 L265.02 2356.92 L265.08 2359.81 L265.13 2362.7 L265.18 2365.6 L265.24 2368.49 L265.3 2371.38 L265.35 2374.27 L265.41 2377.17 L265.47 2380.06 L265.53 2382.95 L265.58 2385.84 L265.64 2388.73 L265.7 2391.63 L265.77 2394.52 L265.83 2397.41 L265.89 2400.3 L265.95 2403.19 L266.02 2406.08 L266.08 2408.97 L266.15 2411.86 L266.21 2414.76 L266.28 2417.65 L266.34 2420.54 L266.41 2423.43 L266.48 2426.32 L266.55 2429.21 L266.62 2432.1 L266.69 2434.99 L266.76 2437.88 L266.83 2440.77 L266.9 2443.66 L266.97 2446.55 L267.04 2449.44 L267.12 2452.33 L267.19 2455.22 L267.26 2458.11 L267.34 2461 L267.41 2463.89 L267.49 2466.78 L267.57 2469.67 L267.64 2472.56 L267.72 2475.44 L267.8 2478.33 L267.88 2481.22 L267.96 2484.11 L268.04 2487 L268.12 2489.89 L268.2 2492.78 L268.28 2495.67 L268.36 2498.56 L268.44 2501.45 L268.53 2504.33 L268.61 2507.22 L268.69 2510.11 L268.78 2513 L268.86 2515.89 L268.95 2518.78 L269.03 2521.66 L269.12 2524.55 L269.2 2527.44 L269.29 2530.33 L269.38 2533.22 L269.47 2536.11 L269.56 2538.99 L269.64 2541.88 L269.73 2544.77 L269.82 2547.66 L269.91 2550.55 L270 2553.43 L270.1 2556.32 L270.19 2559.21 L270.28 2562.1 L270.37 2564.98 L270.46 2567.87 L270.56 2570.76 L270.65 2573.65 L270.74 2576.54 L270.84 2579.42 L270.93 2582.31 L271.03 2585.2 L271.12 2588.09 L271.22 2590.97 L271.32 2593.86 L271.41 2596.75 L271.51 2599.64 L271.61 2602.52 L271.7 2605.41 L271.8 2608.3 L271.9 2611.19 L272 2614.07 L272.1 2616.96 L272.2 2619.85 L272.3 2622.73 L272.4 2625.62 L272.5 2628.51 L272.6 2631.4 L272.7 2634.28 L272.8 2637.17 L272.9 2640.06 L273.01 2642.95 L273.11 2645.83 L273.21 2648.72 L273.31 2651.61 L273.42 2654.5 L273.52 2657.38 L273.63 2660.27 L273.73 2663.16 L273.83 2666.05 L273.94 2668.93 L274.04 2671.82 L274.15 2674.71 L274.25 2677.6 L274.36 2680.48 L274.47 2683.37 L274.57 2686.26 L274.68 2689.15 L274.79 2692.03 L274.89 2694.92 L275 2697.81 L275.11 2700.7 L275.22 2703.58 L275.33 2706.47 L275.43 2709.36 L275.54 2712.25 L275.65 2715.13 L275.76 2718.02 L275.87 2720.91 L275.98 2723.8 L276.09 2726.69 L276.2 2729.57 L276.31 2732.46 L276.42 2735.35 L276.53 2738.24 L276.64 2741.13 L276.75 2744.01 L276.86 2746.9 L276.97 2749.79 L277.08 2752.68 L277.19 2755.57 L277.31 2758.46 L277.42 2761.34 L277.53 2764.23 L277.64 2767.12 L277.75 2770.01 L277.87 2772.9 L277.98 2775.79 L278.09 2778.68 L278.2 2781.57 L278.32 2784.45 L278.43 2787.34 L278.54 2790.23 L278.66 2793.12 L278.77 2796.01 L278.88 2798.9 L279 2801.79 L279.11 2804.68 L279.23 2807.57 L279.34 2810.46 L279.45 2813.35 L279.57 2816.24 L279.68 2819.13 L279.8 2822.02 L279.91 2824.91 L280.02 2827.8 L280.14 2830.69 L280.25 2833.58 L280.37 2836.47 L280.48 2839.36 L280.6 2842.25 L280.71 2845.14 L280.83 2848.03 L280.94 2850.92 L281.06 2853.81 L281.17 2856.7 L281.29 2859.59 L281.4 2862.48 L281.52 2865.37 L281.63 2868.26 L281.75 2871.15 L281.86 2874.05 L281.98 2876.94 L282.09 2879.83 L282.21 2882.72 L282.32 2885.61 L282.44 2888.5 L282.55 2891.4 L282.67 2894.29 L282.78 2897.18 L282.9 2900.07 L283.01 2902.96 L283.13 2905.86 L283.24 2908.75 L283.36 2911.64 L283.48 2914.53 L283.59 2917.43 L283.71 2920.32 L283.83 2923.21 L283.95 2926.1 L284.07 2929 L284.19 2931.89 L284.31 2934.78 L284.43 2937.68 L284.55 2940.57 L284.67 2943.46 L284.79 2946.35 L284.92 2949.24 L285.04 2952.14 L285.17 2955.03 L285.3 2957.92 L285.43 2960.81 L285.56 2963.71 L285.69 2966.6 L285.82 2969.49 L285.96 2972.38 L286.09 2975.27 L286.23 2978.16 L286.37 2981.05 L286.51 2983.94 L286.65 2986.83 L286.8 2989.73 L286.94 2992.62 L287.09 2995.51 L287.24 2998.4 L287.39 3001.28 L287.55 3004.17 L287.7 3007.06 L287.86 3009.95 L288.02 3012.84 L288.18 3015.73 L288.35 3018.62 L288.51 3021.5 L288.68 3024.39 L288.86 3027.28 L289.03 3030.17 L289.21 3033.05 L289.39 3035.94 L289.57 3038.82 L289.75 3041.71 L289.94 3044.59 L290.13 3047.48 L290.32 3050.36 L290.52 3053.25 L290.72 3056.13 L290.92 3059.01 L291.13 3061.89 L291.34 3064.78 L291.55 3067.66 L291.76 3070.54 L291.98 3073.42 L292.2 3076.3 L292.43 3079.18 L292.65 3082.06 L292.89 3084.94 L293.12 3087.82 L293.36 3090.69 L293.6 3093.57 L293.85 3096.45 L294.1 3099.32 L294.36 3102.2 L294.61 3105.07 L294.88 3107.95 L295.14 3110.82 L295.41 3113.7 L295.69 3116.57 L295.97 3119.44 L296.25 3122.31 L296.53 3125.18 L296.83 3128.05 L297.12 3130.92 L297.42 3133.79 L297.73 3136.66 L298.04 3139.53 L298.35 3142.39 L298.67 3145.26 L298.99 3148.12 L299.32 3150.99 L299.65 3153.85 L299.99 3156.72 L300.33 3159.58 L300.68 3162.44 L301.03 3165.3 L301.39 3168.16 L301.75 3171.02 L302.12 3173.88 L302.49 3176.74 L302.87 3179.59 L303.26 3182.45 L303.65 3185.3 L304.04 3188.16 L304.44 3191.01 L304.85 3193.87 L305.26 3196.72 L305.68 3199.57 L306.1 3202.42 L306.53 3205.27 L306.96 3208.12 L307.4 3210.96 L307.85 3213.81 L308.3 3216.66 L308.76 3219.5 L309.23 3222.34 L309.7 3225.19 L310.18 3228.03 L310.67 3230.87 L311.16 3233.72 L311.67 3236.56 L312.18 3239.4 L312.71 3242.25 L313.24 3245.09 L313.79 3247.94 L314.34 3250.78 L314.91 3253.63 L315.49 3256.48 L316.08 3259.33 L316.69 3262.18 L317.31 3265.03 L317.94 3267.88 L318.59 3270.74 L319.25 3273.6 L319.92 3276.46 L320.62 3279.32 L321.33 3282.19 L322.07 3285.04 L322.87 3287.88 L323.72 3290.68 L324.64 3293.45 L325.66 3296.17 L326.77 3298.84 L328 3301.44 L329.36 3303.96 L330.86 3306.39 L332.52 3308.74 L334.34 3310.96 L336.32 3313.02 L338.47 3314.85 L340.76 3316.39 L343.19 3317.56 L345.76 3318.3 L348.45 3318.56 L351.25 3318.3 L354.08 3317.6 L356.85 3316.56 L359.5 3315.27 L362.04 3313.78 L364.47 3312.11 L366.81 3310.3 L369.09 3308.39 L371.33 3306.41 L373.53 3304.39 L375.71 3302.38 L377.9 3300.4 L380.09 3298.46 L382.28 3296.56 L384.49 3294.7 L386.7 3292.86 L388.92 3291.05 L391.15 3289.27 L393.39 3287.51 L395.64 3285.77 L397.9 3284.04 L400.17 3282.33 L402.45 3280.62 L404.75 3278.92 L407.06 3277.23 L409.38 3275.54 L411.72 3273.85 L414.07 3272.16 L416.44 3270.48 L418.82 3268.82 L421.22 3267.17 L423.64 3265.55 L426.08 3263.95 L428.53 3262.38 L431.01 3260.84 L433.5 3259.34 L436.02 3257.88 L438.56 3256.47 L441.11 3255.1 L443.7 3253.79 L446.3 3252.52 L448.92 3251.31 L451.56 3250.13 L454.22 3249.01 L456.9 3247.93 L459.59 3246.89 L462.3 3245.89 L465.02 3244.93 L467.76 3244.01 L470.51 3243.13 L473.27 3242.28 L476.05 3241.47 L478.83 3240.68 L481.62 3239.94 L484.43 3239.22 L487.24 3238.53 L490.05 3237.87 L492.88 3237.23 L495.7 3236.62 L498.54 3236.03 L501.37 3235.47 L504.21 3234.92 L507.05 3234.4 L509.89 3233.9 L512.74 3233.41 L515.59 3232.95 L518.44 3232.51 L521.29 3232.08 L524.15 3231.67 L527.01 3231.28 L529.87 3230.91 L532.73 3230.56 L535.59 3230.22 L538.46 3229.9 L541.33 3229.59 L544.2 3229.3 L547.07 3229.03 L549.94 3228.77 L552.82 3228.52 L555.7 3228.29 L558.57 3228.07 L561.45 3227.87 L564.34 3227.68 L567.22 3227.5 L570.11 3227.33 L572.99 3227.17 L575.88 3227.03 L578.77 3226.9 L581.66 3226.77 L584.55 3226.66 L587.44 3226.55 L590.33 3226.46 L593.23 3226.37 L596.12 3226.29 L599.02 3226.22 L601.91 3226.16 L604.81 3226.11 L607.71 3226.06 L610.6 3226.02 L613.5 3225.98 L616.4 3225.95 L619.3 3225.92 L622.2 3225.9 L625.1 3225.89 L628 3225.87 L630.9 3225.86 L633.8 3225.86 L636.7 3225.85 L639.6 3225.85 L642.5 3225.86 L645.4 3225.86 L648.3 3225.86 L651.2 3225.87 L654.1 3225.87 L656.99 3225.88 L659.89 3225.88 L662.79 3225.89 L665.69 3225.89 L668.58 3225.89 L671.48 3225.89 L674.37 3225.88 L677.27 3225.88 L680.16 3225.87 L683.05 3225.85 L685.94 3225.84 L688.84 3225.81 L691.72 3225.79 L694.61 3225.75 L697.5 3225.72 L700.38 3225.67 L703.27 3225.62 L706.15 3225.57 L709.03 3225.5 L711.91 3225.43 L714.79 3225.35 L717.67 3225.26 L720.54 3225.16 L723.41 3225.06 L726.28 3224.94 L729.2 3225 L730.15 3223.33 L730.8 3221.77 L731.46 3220.2 L732.12 3218.62 L732.78 3217.04 L733.44 3215.45 L734.11 3213.85 L734.77 3212.25 L735.44 3210.64 L736.12 3209.03 L736.8 3207.41 L737.48 3205.79 L738.17 3204.16 L738.86 3202.53 L739.56 3200.9 L740.26 3199.27 L740.97 3197.63 L741.69 3196 L742.41 3194.36 L743.14 3192.73 L743.88 3191.1 L744.62 3189.46 L745.38 3187.83 L746.14 3186.2 L746.91 3184.58 L747.69 3182.95 L748.48 3181.33 L749.28 3179.72 L750.09 3178.11 L750.91 3176.51 L751.75 3174.91 L752.59 3173.32 L753.44 3171.73 L754.31 3170.15 L755.19 3168.59 L756.08 3167.03 L756.99 3165.47 L757.91 3163.93 L758.84 3162.4 L759.79 3160.88 L760.75 3159.37 L761.72 3157.87 L762.72 3156.39 L763.72 3154.91 L764.75 3153.45 L765.78 3152.01 L766.84 3150.58 L767.91 3149.16 L769 3147.76 L770.11 3146.37 L771.24 3145 L772.38 3143.65 L773.54 3142.31 L774.72 3141 L775.92 3139.7 L777.13 3138.41 L778.37 3137.15 L779.61 3135.9 L780.88 3134.68 L782.16 3133.47 L783.46 3132.28 L784.77 3131.1 L786.1 3129.95 L787.45 3128.82 L788.81 3127.7 L790.18 3126.61 L791.57 3125.54 L792.97 3124.48 L794.39 3123.45 L795.82 3122.44 L797.27 3121.44 L798.73 3120.47 L800.2 3119.52 L801.68 3118.59 L803.18 3117.69 L804.69 3116.8 L806.21 3115.94 L807.74 3115.1 L809.28 3114.28 L810.84 3113.48 L812.4 3112.71 L813.98 3111.96 L815.57 3111.23 L817.16 3110.53 L818.77 3109.84 L820.39 3109.19 L822.01 3108.56 L823.65 3107.95 L825.29 3107.36 L826.94 3106.8 L828.61 3106.26 L830.27 3105.74 L831.95 3105.25 L833.64 3104.77 L835.33 3104.31 L837.03 3103.88 L838.73 3103.46 L840.44 3103.06 L842.16 3102.68 L843.89 3102.31 L845.61 3101.96 L847.35 3101.63 L849.09 3101.31 L850.83 3101.01 L852.58 3100.72 L854.34 3100.44 L856.09 3100.18 L857.86 3099.93 L859.62 3099.69 L861.39 3099.46 L863.16 3099.24 L864.93 3099.03 L866.71 3098.83 L868.48 3098.64 L870.26 3098.45 L872.05 3098.27 L873.83 3098.1 L875.61 3097.94 L877.4 3097.78 L879.18 3097.62 L880.96 3097.47 L882.75 3097.32 L884.53 3097.18 L886.32 3097.03 L888.1 3096.89 L889.88 3096.76 L891.67 3096.62 L893.45 3096.49 L895.23 3096.36 L897.01 3096.23 L898.79 3096.1 L900.57 3095.98 L902.35 3095.86 L904.13 3095.74 L905.91 3095.62 L907.68 3095.5 L909.46 3095.39 L911.24 3095.28 L913.02 3095.17 L914.79 3095.07 L916.57 3094.96 L918.34 3094.86 L920.12 3094.76 L921.9 3094.66 L923.67 3094.56 L925.44 3094.47 L927.22 3094.38 L928.99 3094.29 L930.76 3094.2 L932.54 3094.11 L934.31 3094.03 L936.08 3093.94 L937.85 3093.86 L939.62 3093.78 L941.39 3093.71 L943.17 3093.63 L944.94 3093.56 L946.71 3093.49 L948.48 3093.41 L950.24 3093.35 L952.01 3093.28 L953.78 3093.21 L955.55 3093.15 L957.32 3093.09 L959.09 3093.03 L960.86 3092.97 L962.62 3092.91 L964.39 3092.85 L966.16 3092.8 L967.92 3092.75 L969.69 3092.7 L971.46 3092.64 L973.22 3092.6 L974.99 3092.55 L976.76 3092.5 L978.52 3092.46 L980.29 3092.41 L982.05 3092.37 L983.82 3092.33 L985.58 3092.29 L987.35 3092.25 L989.11 3092.22 L990.87 3092.18 L992.64 3092.15 L994.4 3092.11 L996.17 3092.08 L997.93 3092.05 L999.69 3092.02 L1001.46 3091.99 L1003.22 3091.96 L1004.98 3091.94 L1006.75 3091.91 L1008.51 3091.88 L1010.27 3091.86 L1012.04 3091.84 L1013.8 3091.82 L1015.56 3091.79 L1017.32 3091.77 L1019.09 3091.75 L1020.85 3091.74 L1022.61 3091.72 L1024.37 3091.7 L1026.14 3091.68 L1027.9 3091.67 L1029.66 3091.65 L1031.42 3091.64 L1033.19 3091.63 L1034.95 3091.61 L1036.71 3091.6 L1038.47 3091.59 L1040.24 3091.58 L1042 3091.57 L1043.76 3091.56 L1045.52 3091.55 L1047.29 3091.54 L1049.05 3091.53 L1050.81 3091.52 L1052.57 3091.52 L1054.34 3091.51 L1056.1 3091.5 L1057.86 3091.5 L1059.62 3091.49 L1061.39 3091.49 L1063.15 3091.48 L1064.91 3091.48 L1066.68 3091.47 L1068.44 3091.47 L1070.2 3091.46 L1071.97 3091.46 L1073.73 3091.46 L1075.49 3091.45 L1077.26 3091.45 L1079.02 3091.45 L1080.79 3091.44 L1082.55 3091.44 L1084.31 3091.44 L1086.08 3091.44 L1087.84 3091.43 L1089.61 3091.43 L1091.37 3091.43 L1093.14 3091.43 L1094.91 3091.42 L1096.67 3091.42 L1098.44 3091.42 L1100.2 3091.41 L1101.97 3091.41 L1103.74 3091.41 L1105.5 3091.4 L1107.27 3091.4 L1109.04 3091.4 L1110.81 3091.39 L1112.57 3091.39 L1114.34 3091.38 L1116.11 3091.38 L1117.88 3091.37 L1119.65 3091.37 L1121.42 3091.36 L1123.19 3091.35 L1124.96 3091.35 L1126.73 3091.34 L1128.5 3091.33 L1130.27 3091.32 L1132.04 3091.31 L1133.81 3091.3 L1135.58 3091.29 L1137.35 3091.28 L1139.12 3091.27 L1140.9 3091.26 L1142.67 3091.25 L1144.44 3091.24 L1146.22 3091.22 L1147.99 3091.21 L1149.77 3091.19 L1151.54 3091.18 L1153.32 3091.16 L1155.09 3091.14 L1156.87 3091.13 L1158.65 3091.11 L1160.42 3091.09 L1162.2 3091.07 L1163.98 3091.04 L1165.76 3091.02 L1167.53 3091 L1169.31 3090.97 L1171.09 3090.95 L1172.87 3090.92 L1174.65 3090.9 L1176.43 3090.87 L1178.22 3090.84 L1180 3090.81 L1181.78 3090.78 L1183.56 3090.74 L1185.35 3090.71 L1187.13 3090.67 L1188.91 3090.64 L1190.7 3090.6 L1192.48 3090.56 L1194.27 3090.52 L1196 3090.6 L1197.16 3089.45 L1197.89 3087.94 L1198.64 3086.43 L1199.41 3084.92 L1200.19 3083.43 L1200.98 3081.94 L1201.79 3080.46 L1202.62 3078.98 L1203.46 3077.51 L1204.32 3076.06 L1205.19 3074.61 L1206.08 3073.17 L1206.98 3071.74 L1207.9 3070.32 L1208.83 3068.91 L1209.78 3067.51 L1210.75 3066.12 L1211.73 3064.75 L1212.73 3063.39 L1213.74 3062.04 L1214.77 3060.7 L1215.81 3059.38 L1216.87 3058.07 L1217.94 3056.78 L1219.03 3055.5 L1220.13 3054.23 L1221.25 3052.99 L1222.39 3051.75 L1223.54 3050.54 L1224.71 3049.34 L1225.89 3048.16 L1227.08 3047 L1228.29 3045.85 L1229.52 3044.73 L1230.76 3043.62 L1232.02 3042.54 L1233.29 3041.47 L1234.58 3040.42 L1235.89 3039.4 L1237.2 3038.39 L1238.54 3037.41 L1239.89 3036.45 L1241.25 3035.51 L1242.63 3034.6 L1244.02 3033.71 L1245.43 3032.84 L1246.86 3031.99 L1248.29 3031.17 L1249.74 3030.36 L1251.2 3029.58 L1252.67 3028.82 L1254.16 3028.07 L1255.65 3027.35 L1257.16 3026.64 L1258.68 3025.96 L1260.2 3025.29 L1261.74 3024.64 L1263.28 3024 L1264.83 3023.39 L1266.39 3022.79 L1267.96 3022.2 L1269.53 3021.63 L1271.11 3021.08 L1272.7 3020.54 L1274.29 3020.02 L1275.88 3019.51 L1277.48 3019.01 L1279.09 3018.52 L1280.69 3018.05 L1282.3 3017.59 L1283.92 3017.15 L1285.53 3016.71 L1287.15 3016.28 L1288.77 3015.87 L1290.39 3015.47 L1292.01 3015.07 L1293.64 3014.69 L1295.27 3014.32 L1296.9 3013.96 L1298.53 3013.61 L1300.16 3013.27 L1301.8 3012.94 L1303.44 3012.62 L1305.08 3012.3 L1306.72 3012 L1308.36 3011.71 L1310.01 3011.42 L1311.65 3011.15 L1313.3 3010.88 L1314.95 3010.62 L1316.6 3010.37 L1318.25 3010.13 L1319.91 3009.89 L1321.56 3009.67 L1323.22 3009.45 L1324.88 3009.24 L1326.54 3009.03 L1328.2 3008.84 L1329.86 3008.65 L1331.53 3008.46 L1333.19 3008.29 L1334.86 3008.12 L1336.52 3007.95 L1338.19 3007.8 L1339.86 3007.64 L1341.53 3007.5 L1343.2 3007.36 L1344.87 3007.22 L1346.54 3007.09 L1348.21 3006.97 L1349.89 3006.85 L1351.56 3006.73 L1353.24 3006.62 L1354.91 3006.52 L1356.59 3006.42 L1358.26 3006.32 L1359.94 3006.22 L1361.62 3006.13 L1363.29 3006.05 L1364.97 3005.97 L1366.65 3005.89 L1368.33 3005.81 L1370.01 3005.74 L1371.68 3005.66 L1373.36 3005.6 L1375.04 3005.53 L1376.72 3005.47 L1378.4 3005.41 L1380.08 3005.35 L1381.75 3005.29 L1383.43 3005.23 L1385.11 3005.18 L1386.79 3005.12 L1388.47 3005.07 L1390.14 3005.02 L1391.82 3004.97 L1393.5 3004.92 L1395.17 3004.87 L1396.85 3004.83 L1398.52 3004.78 L1400.2 3004.74 L1401.88 3004.69 L1403.55 3004.65 L1405.23 3004.61 L1406.9 3004.57 L1408.58 3004.53 L1410.25 3004.5 L1411.92 3004.46 L1413.6 3004.43 L1415.27 3004.39 L1416.95 3004.36 L1418.62 3004.33 L1420.29 3004.3 L1421.96 3004.27 L1423.64 3004.24 L1425.31 3004.21 L1426.98 3004.18 L1428.66 3004.15 L1430.33 3004.13 L1432 3004.1 L1433.67 3004.08 L1435.34 3004.06 L1437.01 3004.04 L1438.69 3004.02 L1440.36 3004 L1442.03 3003.98 L1443.7 3003.96 L1445.37 3003.94 L1447.04 3003.93 L1448.71 3003.91 L1450.38 3003.89 L1452.05 3003.88 L1453.72 3003.87 L1455.39 3003.85 L1457.06 3003.84 L1458.73 3003.83 L1460.4 3003.82 L1462.07 3003.81 L1463.74 3003.8 L1465.41 3003.79 L1467.08 3003.78 L1468.75 3003.78 L1470.42 3003.77 L1472.09 3003.76 L1473.76 3003.76 L1475.43 3003.75 L1477.1 3003.75 L1478.76 3003.75 L1480.43 3003.74 L1482.1 3003.74 L1483.77 3003.74 L1485.44 3003.74 L1487.11 3003.74 L1488.78 3003.74 L1490.44 3003.74 L1492.11 3003.74 L1493.78 3003.74 L1495.45 3003.74 L1497.12 3003.74 L1498.79 3003.74 L1500.45 3003.75 L1502.12 3003.75 L1503.79 3003.75 L1505.46 3003.76 L1507.13 3003.76 L1508.8 3003.77 L1510.46 3003.77 L1512.13 3003.78 L1513.8 3003.78 L1515.47 3003.79 L1517.14 3003.79 L1518.8 3003.8 L1520.47 3003.81 L1522.14 3003.81 L1523.81 3003.82 L1525.48 3003.83 L1527.15 3003.84 L1528.81 3003.84 L1530.48 3003.85 L1532.15 3003.86 L1533.82 3003.87 L1535.49 3003.88 L1537.15 3003.88 L1538.82 3003.89 L1540.49 3003.9 L1542.16 3003.91 L1543.83 3003.92 L1545.5 3003.93 L1547.17 3003.94 L1548.84 3003.95 L1550.5 3003.96 L1552.17 3003.97 L1553.84 3003.98 L1555.51 3003.99 L1557.18 3003.99 L1558.85 3004 L1560.52 3004.01 L1562.19 3004.02 L1563.86 3004.03 L1565.53 3004.04 L1567.2 3004.05 L1568.87 3004.06 L1570.54 3004.07 L1572.21 3004.08 L1573.88 3004.08 L1575.55 3004.09 L1577.22 3004.1 L1578.89 3004.11 L1580.56 3004.12 L1582.23 3004.12 L1583.9 3004.13 L1585.57 3004.14 L1587.24 3004.14 L1588.92 3004.15 L1590.59 3004.16 L1592.26 3004.16 L1593.93 3004.17 L1595.6 3004.18 L1597.27 3004.18 L1598.95 3004.19 L1600.62 3004.19 L1602.29 3004.19 L1603.96 3004.2 L1605.64 3004.2 L1607.31 3004.2 L1608.98 3004.21 L1610.66 3004.21 L1612.33 3004.21 L1614.01 3004.21 L1615.68 3004.21 L1617.35 3004.21 L1619.03 3004.21 L1620.7 3004.21 L1622.38 3004.21 L1624.05 3004.21 L1625.73 3004.21 L1627.4 3004.21 L1629.08 3004.2 L1630.76 3004.2 L1632.43 3004.2 L1634.11 3004.19 L1635.79 3004.19 L1637.46 3004.18 L1639.14 3004.17 L1640.82 3004.17 L1642.5 3004.16 L1644.17 3004.15 L1645.85 3004.14 L1647.53 3004.13 L1649.21 3004.12 L1650.89 3004.11 L1652.57 3004.1 L1654.25 3004.08 L1655.93 3004.07 L1657.61 3004.06 L1659.29 3004.04 L1660.97 3004.02 L1662.65 3004.01 L1664.3 3004 L1664.76 3005.9 L1665.3 3007.84 L1665.83 3009.78 L1666.35 3011.71 L1666.86 3013.64 L1667.37 3015.57 L1667.88 3017.49 L1668.37 3019.42 L1668.87 3021.34 L1669.35 3023.26 L1669.84 3025.17 L1670.32 3027.09 L1670.79 3029 L1671.26 3030.91 L1671.73 3032.82 L1672.2 3034.73 L1672.67 3036.64 L1673.13 3038.54 L1673.59 3040.45 L1674.05 3042.35 L1674.52 3044.25 L1674.98 3046.15 L1675.44 3048.05 L1675.91 3049.95 L1676.37 3051.84 L1676.84 3053.74 L1677.31 3055.63 L1677.78 3057.53 L1678.26 3059.42 L1678.74 3061.31 L1679.22 3063.21 L1679.71 3065.1 L1680.2 3066.99 L1680.7 3068.88 L1681.2 3070.77 L1681.71 3072.66 L1682.23 3074.55 L1682.75 3076.44 L1683.29 3078.33 L1683.82 3080.23 L1684.37 3082.12 L1684.93 3084.01 L1685.49 3085.9 L1686.07 3087.79 L1686.65 3089.68 L1687.25 3091.58 L1687.85 3093.47 L1688.47 3095.37 L1689.1 3097.26 L1689.74 3099.15 L1690.39 3101.05 L1691.05 3102.94 L1691.72 3104.83 L1692.41 3106.71 L1693.11 3108.6 L1693.82 3110.48 L1694.54 3112.36 L1695.28 3114.23 L1696.03 3116.1 L1696.79 3117.96 L1697.57 3119.82 L1698.36 3121.68 L1699.16 3123.52 L1699.98 3125.36 L1700.81 3127.2 L1701.65 3129.02 L1702.51 3130.84 L1703.38 3132.65 L1704.27 3134.45 L1705.17 3136.24 L1706.09 3138.03 L1707.02 3139.8 L1707.97 3141.56 L1708.93 3143.31 L1709.91 3145.05 L1710.9 3146.78 L1711.91 3148.49 L1712.94 3150.19 L1713.98 3151.88 L1715.04 3153.56 L1716.11 3155.22 L1717.21 3156.87 L1718.31 3158.5 L1719.44 3160.12 L1720.58 3161.72 L1721.74 3163.31 L1722.92 3164.88 L1724.12 3166.43 L1725.33 3167.96 L1726.56 3169.48 L1727.81 3170.98 L1729.08 3172.46 L1730.37 3173.92 L1731.67 3175.36 L1733 3176.78 L1734.34 3178.18 L1735.7 3179.56 L1737.09 3180.91 L1738.49 3182.25 L1739.91 3183.56 L1741.35 3184.86 L1742.81 3186.12 L1744.29 3187.37 L1745.79 3188.59 L1747.32 3189.79 L1748.86 3190.96 L1750.42 3192.1 L1752.01 3193.22 L1753.62 3194.32 L1755.24 3195.39 L1756.89 3196.43 L1758.56 3197.44 L1760.24 3198.44 L1761.94 3199.4 L1763.66 3200.34 L1765.4 3201.25 L1767.15 3202.14 L1768.92 3203.01 L1770.7 3203.84 L1772.5 3204.66 L1774.31 3205.44 L1776.14 3206.21 L1777.97 3206.94 L1779.82 3207.66 L1781.68 3208.34 L1783.55 3209.01 L1785.43 3209.64 L1787.32 3210.26 L1789.21 3210.85 L1791.12 3211.41 L1793.03 3211.95 L1794.95 3212.47 L1796.88 3212.96 L1798.81 3213.43 L1800.75 3213.88 L1802.69 3214.3 L1804.63 3214.71 L1806.58 3215.09 L1808.54 3215.46 L1810.49 3215.8 L1812.45 3216.13 L1814.41 3216.44 L1816.38 3216.74 L1818.34 3217.02 L1820.31 3217.28 L1822.28 3217.53 L1824.25 3217.77 L1826.22 3217.99 L1828.19 3218.21 L1830.16 3218.41 L1832.14 3218.59 L1834.11 3218.77 L1836.09 3218.94 L1838.07 3219.1 L1840.04 3219.26 L1842.02 3219.4 L1844 3219.54 L1845.98 3219.67 L1847.96 3219.8 L1849.94 3219.93 L1851.92 3220.05 L1853.89 3220.16 L1855.87 3220.28 L1857.85 3220.39 L1859.83 3220.5 L1861.81 3220.61 L1863.79 3220.71 L1865.76 3220.82 L1867.74 3220.92 L1869.72 3221.02 L1871.7 3221.12 L1873.67 3221.22 L1875.65 3221.32 L1877.63 3221.41 L1879.6 3221.5 L1881.58 3221.59 L1883.55 3221.68 L1885.53 3221.77 L1887.51 3221.85 L1889.48 3221.94 L1891.46 3222.02 L1893.43 3222.1 L1895.41 3222.18 L1897.38 3222.25 L1899.36 3222.33 L1901.33 3222.4 L1903.31 3222.48 L1905.28 3222.55 L1907.26 3222.62 L1909.23 3222.68 L1911.2 3222.75 L1913.18 3222.82 L1915.15 3222.88 L1917.13 3222.94 L1919.1 3223 L1921.07 3223.06 L1923.05 3223.12 L1925.02 3223.18 L1926.99 3223.23 L1928.97 3223.29 L1930.94 3223.34 L1932.91 3223.39 L1934.88 3223.44 L1936.86 3223.49 L1938.83 3223.54 L1940.8 3223.58 L1942.78 3223.63 L1944.75 3223.67 L1946.72 3223.72 L1948.69 3223.76 L1950.67 3223.8 L1952.64 3223.84 L1954.61 3223.88 L1956.58 3223.92 L1958.56 3223.95 L1960.53 3223.99 L1962.5 3224.02 L1964.47 3224.06 L1966.44 3224.09 L1968.42 3224.12 L1970.39 3224.15 L1972.36 3224.18 L1974.33 3224.21 L1976.31 3224.24 L1978.28 3224.27 L1980.25 3224.29 L1982.22 3224.32 L1984.19 3224.34 L1986.17 3224.37 L1988.14 3224.39 L1990.11 3224.41 L1992.08 3224.43 L1994.06 3224.46 L1996.03 3224.48 L1998 3224.5 L1999.97 3224.52 L2001.95 3224.53 L2003.92 3224.55 L2005.89 3224.57 L2007.87 3224.59 L2009.84 3224.6 L2011.81 3224.62 L2013.78 3224.63 L2015.76 3224.65 L2017.73 3224.66 L2019.7 3224.68 L2021.68 3224.69 L2023.65 3224.7 L2025.62 3224.71 L2027.6 3224.73 L2029.57 3224.74 L2031.55 3224.75 L2033.52 3224.76 L2035.49 3224.77 L2037.47 3224.78 L2039.44 3224.79 L2041.42 3224.8 L2043.39 3224.81 L2045.37 3224.82 L2047.34 3224.83 L2049.32 3224.84 L2051.29 3224.85 L2053.27 3224.86 L2055.24 3224.86 L2057.22 3224.87 L2059.19 3224.88 L2061.17 3224.89 L2063.15 3224.9 L2065.12 3224.91 L2067.1 3224.91 L2069.08 3224.92 L2071.05 3224.93 L2073.03 3224.94 L2075.01 3224.95 L2076.99 3224.95 L2078.96 3224.96 L2080.94 3224.97 L2082.92 3224.98 L2084.9 3224.99 L2086.88 3225 L2088.86 3225.01 L2090.83 3225.01 L2092.81 3225.02 L2094.79 3225.03 L2096.77 3225.04 L2098.75 3225.05 L2100.73 3225.06 L2102.71 3225.07 L2104.69 3225.08 L2106.68 3225.1 L2108.66 3225.11 L2110.64 3225.12 L2112.62 3225.13 L2114.6 3225.14 L2116.58 3225.16 L2118.57 3225.17 L2120.55 3225.19 L2122.53 3225.2 L2124.52 3225.22" fill="none" stroke="#0000ff" stroke-width="12.5" stroke-linejoin="miter" stroke-miterlimit="2"/>
</g>
<text x="761.6" y="2034.9" font-family="'Liberation Serif', serif" font-weight="normal" font-size="87.8" fill="#000" stroke="#000" stroke-width="1.7" stroke-linejoin="round" letter-spacing="1.38">(b) Armature current Ia</text>
<g font-family="'Liberation Sans', sans-serif" font-size="56.9" fill="#262626" stroke="#262626" stroke-width="0.8" stroke-linejoin="round"><text x="257.7" y="3622" text-anchor="middle">0</text><text x="490.82" y="3622" text-anchor="middle">50</text><text x="723.95" y="3622" text-anchor="middle">100</text><text x="957.08" y="3622" text-anchor="middle">150</text><text x="1190.2" y="3622" text-anchor="middle">200</text><text x="1423.33" y="3622" text-anchor="middle">250</text><text x="1656.45" y="3622" text-anchor="middle">300</text><text x="1889.58" y="3622" text-anchor="middle">350</text><text x="2122.7" y="3622" text-anchor="middle">400</text><text x="234.5" y="3562.2" text-anchor="end">14</text><text x="234.5" y="3317.03" text-anchor="end">14.5</text><text x="234.5" y="3071.87" text-anchor="end">15</text><text x="234.5" y="2826.7" text-anchor="end">15.5</text><text x="234.5" y="2581.53" text-anchor="end">16</text><text x="234.5" y="2336.37" text-anchor="end">16.5</text><text x="234.5" y="2091.2" text-anchor="end">17</text></g>
<g fill="#fff"><rect x="679.62" y="3616.05" width="10.17" height="7.35"/><rect x="696.82" y="3616.05" width="9.73" height="7.35"/><rect x="912.74" y="3616.05" width="10.17" height="7.35"/><rect x="929.94" y="3616.05" width="9.73" height="7.35"/><rect x="174.34" y="3556.25" width="10.17" height="7.35"/><rect x="191.55" y="3556.25" width="9.73" height="7.35"/><rect x="126.89" y="3311.08" width="10.17" height="7.35"/><rect x="144.09" y="3311.08" width="9.73" height="7.35"/><rect x="174.34" y="3065.92" width="10.17" height="7.35"/><rect x="191.55" y="3065.92" width="9.73" height="7.35"/><rect x="126.89" y="2820.75" width="10.17" height="7.35"/><rect x="144.09" y="2820.75" width="9.73" height="7.35"/><rect x="174.34" y="2575.58" width="10.17" height="7.35"/><rect x="191.55" y="2575.58" width="9.73" height="7.35"/><rect x="126.89" y="2330.42" width="10.17" height="7.35"/><rect x="144.09" y="2330.42" width="9.73" height="7.35"/><rect x="174.34" y="2085.25" width="10.17" height="7.35"/><rect x="191.55" y="2085.25" width="9.73" height="7.35"/></g>
<text x="1028.7" y="3716.7" font-family="'Liberation Serif', serif" font-weight="bold" font-size="80.6" fill="#262626" letter-spacing="-0.86">Time [s]</text>
<text transform="translate(87.7 3220.8) rotate(-90)" font-family="'Liberation Serif', serif" font-weight="bold" font-size="80.1" fill="#262626" letter-spacing="-0.24">Armature current Ia [A]</text>
<line x1="617.8" y1="2880.2" x2="614.91" y2="3159.36" stroke="#000" stroke-width="4"/>
<polygon points="614.52,3197.1 593.68,3140.78 614.91,3159.36 636.52,3141.22" fill="#000" stroke="#000" stroke-width="4" stroke-linejoin="round"/>
<line x1="1011.4" y1="2564.3" x2="1010.03" y2="2992.16" stroke="#000" stroke-width="4"/>
<polygon points="1009.91,3029.9 988.67,2973.73 1010.03,2992.16 1031.51,2973.87" fill="#000" stroke="#000" stroke-width="4" stroke-linejoin="round"/>
<line x1="1514.8" y1="2323.2" x2="1522.78" y2="2928.16" stroke="#000" stroke-width="4"/>
<polygon points="1523.27,2965.9 1501.12,2910.09 1522.78,2928.16 1543.95,2909.52" fill="#000" stroke="#000" stroke-width="4" stroke-linejoin="round"/>
<line x1="1933.2" y1="2902.7" x2="1933.37" y2="3161.06" stroke="#000" stroke-width="4"/>
<polygon points="1933.4,3198.8 1911.94,3142.71 1933.37,3161.06 1954.78,3142.69" fill="#000" stroke="#000" stroke-width="4" stroke-linejoin="round"/>
<g fill="#fff"><rect x="487.1" y="2735.5" width="10" height="3.6"/><rect x="720.25" y="2735.5" width="10" height="3.6"/><rect x="953.4" y="2440.8" width="10" height="3.6"/><rect x="1186.5" y="2440.8" width="10" height="3.6"/><rect x="953.4" y="2630" width="10" height="3.6"/><rect x="1006.2" y="2630" width="10" height="3.6"/><rect x="1186.5" y="2630" width="10" height="3.6"/><rect x="1419.6" y="2167.3" width="10" height="3.6"/><rect x="1652.75" y="2167.3" width="10" height="3.6"/><rect x="1885.9" y="2167.3" width="10" height="3.6"/><rect x="1419.6" y="2355.8" width="10" height="3.6"/><rect x="1652.75" y="2355.8" width="10" height="3.6"/><rect x="1885.9" y="2355.8" width="10" height="3.6"/><rect x="1885.9" y="2125.2" width="10" height="3.6"/><rect x="1885.9" y="2241.2" width="10" height="3.6"/><rect x="1652.75" y="2766.4" width="10" height="3.6"/><rect x="1885.9" y="2766.4" width="10" height="3.6"/><rect x="2119" y="2766.4" width="10" height="3.6"/><rect x="1652.75" y="2954.7" width="10" height="3.6"/><rect x="1885.9" y="2954.7" width="10" height="3.6"/><rect x="1928.2" y="2954.7" width="10" height="3.6"/><rect x="2119" y="2954.7" width="10" height="3.6"/><rect x="2119" y="2711.9" width="10" height="3.6"/><rect x="2119" y="2837.7" width="10" height="3.6"/><rect x="320.2" y="2799.5" width="3.6" height="10"/><rect x="876.1" y="2799.5" width="3.6" height="10"/><rect x="922.7" y="2799.5" width="3.6" height="10"/><rect x="802" y="2554.3" width="3.6" height="10"/><rect x="1339.6" y="2309.2" width="3.6" height="10"/><rect x="1365.8" y="2554.3" width="3.6" height="10"/><rect x="2062.5" y="2309.2" width="3.6" height="10"/><rect x="1624.9" y="2799.5" width="3.6" height="10"/><rect x="2074.2" y="2799.5" width="3.6" height="10"/></g>
<text x="350.5" y="2828.7" font-family="'Liberation Serif', serif" font-weight="bold" font-size="79.5" fill="#000" letter-spacing="0.12">Go=200 W/m<tspan x="794.6" y="2782.8">2</tspan></text>
<text x="831.3" y="2534.5" font-family="'Liberation Serif', serif" font-weight="bold" font-size="79.5" fill="#000" letter-spacing="0.08">Go=400 W/m<tspan x="1274.6" y="2485.4">2</tspan></text>
<text x="1368.4" y="2259.4" font-family="'Liberation Serif', serif" font-weight="bold" font-size="79.5" fill="#000" letter-spacing="0.23">Go=1000 W/m<tspan x="1851.5" y="2217.7">2</tspan></text>
<text x="1654.4" y="2857.4" font-family="'Liberation Serif', serif" font-weight="bold" font-size="79.5" fill="#000" letter-spacing="0.08">Go=200 W/m<tspan x="2101" y="2803.3">2</tspan></text>
</svg>
</body></html>
